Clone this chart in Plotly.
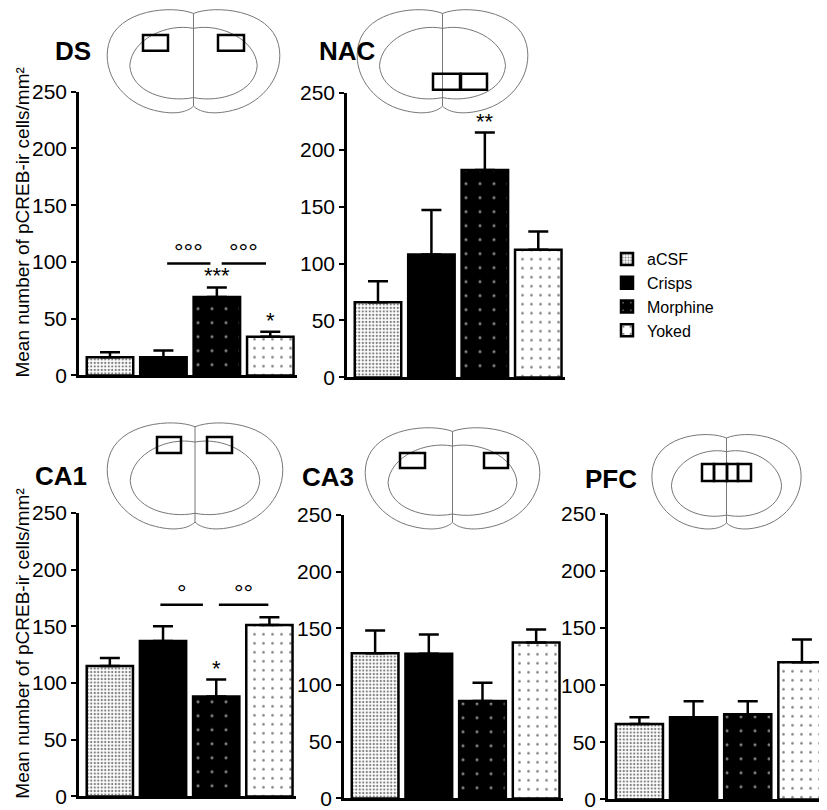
import plotly.graph_objects as go

# ---------------- data ----------------
groups = ["aCSF", "Crisps", "Morphine", "Yoked"]

ds_mean = [16, 16, 69, 34]
ds_sem = [4.5, 6, 8.5, 4.5]
nac_mean = [66, 108, 182, 112]
nac_sem = [18.5, 39, 33, 16]
ca1_mean = [115, 137, 88, 151]
ca1_sem = [7, 13, 15, 7]
ca3_mean = [128, 127.5, 86, 137.5]
ca3_sem = [20, 17, 16, 11.5]
pfc_mean = [66, 72, 74.5, 120]
pfc_sem = [6, 14, 11.5, 20]

panel_names = ["DS", "NAC", "CA1", "CA3", "PFC"]
y_ticks = [0, 50, 100, 150, 200, 250]

# significance vs aCSF (asterisks), per panel: (group, label)
stars_ds = [("Morphine", "***"), ("Yoked", "*")]
stars_nac = [("Morphine", "**")]
stars_ca1 = [("Morphine", "*")]

# comparison bars (from, to, height, label)
brackets_ds = [(1.07, 1.88, 98.5, "°°°"), (2.09, 2.92, 98.5, "°°°")]
brackets_ca1 = [(0.95, 1.75, 169, "°"), (2.05, 2.98, 169, "°°")]

y_title = "Mean number of pCREB-ir cells/mm²"

# ---------------- layout helpers ----------------
W, H = 827, 810
FONT = "Liberation Sans, Arial, sans-serif"
XOFF = 3
YOFF, YSC = 18, 0.976


def px(x):
    return (x - XOFF) / W


def py(y):
    return 1 - ((y - YOFF) / YSC) / H


panels = {
    "DS": dict(mean=ds_mean, sem=ds_sem, dom_x=(74, 292), dom_y=(90, 375),
               stars=stars_ds, brackets=brackets_ds),
    "NAC": dict(mean=nac_mean, sem=nac_sem, dom_x=(342, 560), dom_y=(91, 377),
                stars=stars_nac, brackets=[]),
    "CA1": dict(mean=ca1_mean, sem=ca1_sem, dom_x=(74, 291), dom_y=(513, 798),
                stars=stars_ca1, brackets=brackets_ca1),
    "CA3": dict(mean=ca3_mean, sem=ca3_sem, dom_x=(339, 558), dom_y=(515, 800),
                stars=[], brackets=[]),
    "PFC": dict(mean=pfc_mean, sem=pfc_sem, dom_x=(603, 824), dom_y=(514, 801),
                stars=[], brackets=[]),
}

styles = {
    "aCSF": dict(color="white", line=dict(color="black", width=2.5),
                 pattern=dict(shape=".", fgcolor="black", bgcolor="white",
                              size=3.5, solidity=0.35, fillmode="overlay")),
    "Crisps": dict(color="black", line=dict(color="black", width=2.5)),
    "Morphine": dict(color="black", line=dict(color="black", width=2.5),
                     pattern=dict(shape=".", fgcolor="white", bgcolor="black",
                                  size=14, solidity=0.04, fillmode="overlay")),
    "Yoked": dict(color="white", line=dict(color="black", width=2.5),
                  pattern=dict(shape=".", fgcolor="black", bgcolor="white",
                               size=9, solidity=0.07, fillmode="overlay")),
}

fig = go.Figure()
annotations = []
shapes = []

for i, name in enumerate(panel_names):
    p = panels[name]
    xa = "x" if i == 0 else f"x{i+1}"
    ya = "y" if i == 0 else f"y{i+1}"
    xkey = "xaxis" if i == 0 else f"xaxis{i+1}"
    ykey = "yaxis" if i == 0 else f"yaxis{i+1}"
    for j, g in enumerate(groups):
        fig.add_trace(go.Bar(
            x=[j], y=[p["mean"][j]], name=g, legendgroup=g,
            showlegend=(i == 0), marker=styles[g], width=0.87,
            error_y=dict(type="data", array=[p["sem"][j]], arrayminus=[0],
                         symmetric=False, color="black", thickness=2.5, width=10),
            xaxis=xa, yaxis=ya, hoverinfo="skip"))
    fig.layout[xkey] = dict(domain=[px(p["dom_x"][0]), px(p["dom_x"][1])],
                            anchor=ya, range=[-0.58, 3.5], showline=True,
                            linecolor="black", linewidth=2.5, showticklabels=False,
                            ticks="", showgrid=False, zeroline=False, fixedrange=True)
    fig.layout[ykey] = dict(domain=[py(p["dom_y"][1]), py(p["dom_y"][0])],
                            anchor=xa, range=[0, 250], tickvals=y_ticks,
                            showline=True, linecolor="black", linewidth=2.5,
                            ticks="outside", ticklen=5, tickwidth=2, tickcolor="black",
                            tickfont=dict(size=21, color="black", family=FONT),
                            showgrid=False, zeroline=False, fixedrange=True)
    # asterisks
    for g, lab in p["stars"]:
        j = groups.index(g)
        annotations.append(dict(x=j, y=p["mean"][j] + p["sem"][j], xref=xa, yref=ya,
                                text=lab, showarrow=False, yanchor="bottom",
                                yshift=-3, font=dict(size=22, color="black", family=FONT)))
    # comparison brackets
    for x0, x1, yv, lab in p["brackets"]:
        shapes.append(dict(type="line", x0=x0, x1=x1, y0=yv, y1=yv, xref=xa, yref=ya,
                           line=dict(color="black", width=2.5)))
        annotations.append(dict(x=(x0 + x1) / 2, y=yv, xref=xa, yref=ya, text=lab,
                                showarrow=False, yanchor="bottom", yshift=-3,
                                font=dict(size=24, color="black", family=FONT)))

# panel titles
title_pos = {"DS": (68, 49), "NAC": (342, 49), "CA1": (56, 476),
             "CA3": (323, 477), "PFC": (606, 479)}
for name, (tx, ty) in title_pos.items():
    annotations.append(dict(x=px(tx), y=py(ty), xref="paper", yref="paper",
                            text=f"<b>{name}</b>", showarrow=False,
                            xanchor="center", yanchor="middle",
                            font=dict(size=26, color="black", family=FONT)))

# y-axis titles
for cy in (222, 645):
    annotations.append(dict(x=2 / W, y=py(cy), xref="paper", yref="paper",
                            text=y_title, textangle=-90, showarrow=False,
                            xanchor="left", yanchor="middle",
                            font=dict(size=19, color="black", family=FONT)))


# ---------------- schematic brain sections (decoration) ----------------
def brain_shapes(x0, y0, x1, y1):
    w, h = x1 - x0, y1 - y0

    def P(u, v):
        return f"{px(x0 + u * w):.5f},{py(y0 + v * h):.5f}"

    outline = (f"M{P(0.5,0.06)} C{P(0.62,-0.02)} {P(0.93,0.02)} {P(0.98,0.35)} "
               f"C{P(1.02,0.62)} {P(0.9,0.9)} {P(0.72,0.97)} "
               f"C{P(0.6,1.02)} {P(0.53,0.98)} {P(0.5,0.93)} "
               f"C{P(0.47,0.98)} {P(0.4,1.02)} {P(0.28,0.97)} "
               f"C{P(0.1,0.9)} {P(-0.02,0.62)} {P(0.02,0.35)} "
               f"C{P(0.07,0.02)} {P(0.38,-0.02)} {P(0.5,0.06)} Z")
    inner = (f"M{P(0.5,0.2)} C{P(0.35,0.15)} {P(0.15,0.3)} {P(0.14,0.55)} "
             f"C{P(0.15,0.8)} {P(0.35,0.9)} {P(0.5,0.85)} "
             f"C{P(0.65,0.9)} {P(0.85,0.8)} {P(0.86,0.55)} "
             f"C{P(0.85,0.3)} {P(0.65,0.15)} {P(0.5,0.2)} Z")
    mid = f"M{P(0.5,0.06)} L{P(0.5,0.93)}"
    style = dict(color="#777777", width=1)
    return [dict(type="path", path=outline, xref="paper", yref="paper", line=style, layer="below"),
            dict(type="path", path=inner, xref="paper", yref="paper", line=style, layer="below"),
            dict(type="path", path=mid, xref="paper", yref="paper", line=style, layer="below")]


def roi(x0, y0, x1, y1):
    return dict(type="rect", x0=px(x0), x1=px(x1), y0=py(y1), y1=py(y0),
                xref="paper", yref="paper", line=dict(color="black", width=2.5))


brains = {"DS": (100, 5, 277, 112), "NAC": (350, 5, 525, 112), "CA1": (100, 420, 280, 530),
          "CA3": (358, 425, 537, 530), "PFC": (645, 432, 798, 530)}
rois = {"DS": [(138, 33, 163, 49), (213, 33, 239, 49)],
        "NAC": [(428, 72, 455, 88), (456, 72, 482, 88)],
        "CA1": [(152, 437, 176, 453), (202, 437, 227, 453)],
        "CA3": [(395, 453, 420, 468), (479, 453, 503, 468)],
        "PFC": [(697, 464, 709, 481), (709, 464, 722, 481), (722, 464, 733, 481),
                (733, 464, 746, 481)]}
for name in panel_names:
    shapes += brain_shapes(*brains[name])
    shapes += [roi(*r) for r in rois[name]]

fig.update_layout(
    width=W, height=H, margin=dict(l=0, r=0, t=0, b=0),
    paper_bgcolor="white", plot_bgcolor="white",
    bargap=0.1, showlegend=True,
    legend=dict(x=px(602), y=py(241), xanchor="left", yanchor="top",
                font=dict(size=16, color="black", family=FONT),
                bgcolor="rgba(0,0,0,0)", tracegroupgap=0, itemwidth=30),
    annotations=annotations, shapes=shapes,
    font=dict(family=FONT, color="black"),
)

fig.write_html("out.html")
